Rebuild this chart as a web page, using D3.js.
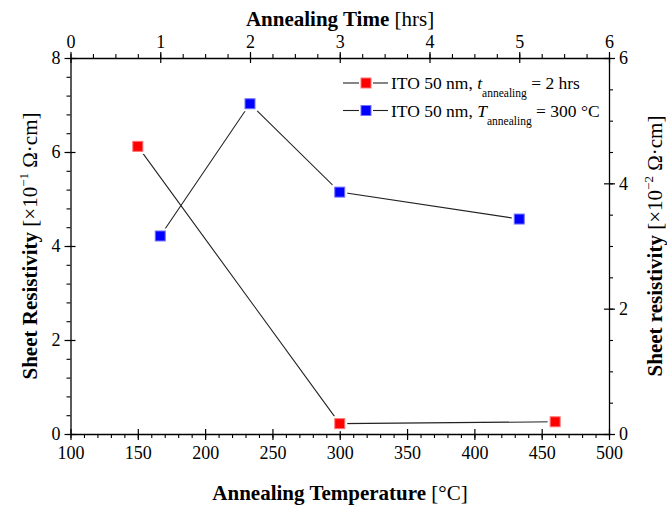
<!DOCTYPE html>
<html><head><meta charset="utf-8">
<script src="https://cdn.jsdelivr.net/npm/d3@7"></script>
<style>body{margin:0;background:#fff}svg{display:block}text{font-family:"Liberation Serif","DejaVu Serif",serif;fill:#000}</style>
</head><body>
<svg id="c" width="667" height="506"></svg>
<script>
// data
const redTemps = [150, 300, 460];
const redValues = [6.12, 0.22, 0.26];
const blueTimes = [1, 2, 3, 5];
const blueValues = [3.16, 5.27, 3.86, 3.43];
const tempTicks = [100, 150, 200, 250, 300, 350, 400, 450, 500];
const timeTicks = [0, 1, 2, 3, 4, 5, 6];
const leftTicks = [0, 2, 4, 6, 8];
const rightTicks = [0, 2, 4, 6];
const legendLabels = [
  {pre: "ITO 50 nm, ", sym: "t", sub: "annealing", post: " = 2 hrs"},
  {pre: "ITO 50 nm, ", sym: "T", sub: "annealing", post: " = 300 °C"}
];
const colors = ["#ff0000", "#0000ff"];

const L = 70.5, R = 609, T = 58, B = 434;
const svg = d3.select("#c");
const xT = d3.scaleLinear().domain([100, 500]).range([L, R]);
const xH = d3.scaleLinear().domain([0, 6]).range([L, R]);
const yL = d3.scaleLinear().domain([0, 8]).range([B, T]);
const yR = d3.scaleLinear().domain([0, 6]).range([B, T]);
const fmt = d3.format("d");

function styleAxis(g, fs) {
  g.select(".domain").attr("stroke", "#000").attr("stroke-width", 1.3);
  g.selectAll(".tick line").attr("stroke", "#000").attr("stroke-width", 1.2);
  g.selectAll(".tick text").style("font-size", fs + "px").attr("fill", "#000");
}
// minor ticks
function minor(axisFn, scale, vals, size, tr) {
  const g = svg.append("g").attr("transform", tr)
    .call(axisFn(scale).tickValues(vals).tickSize(size).tickFormat(""));
  g.select(".domain").remove();
  g.selectAll(".tick line").attr("stroke", "#000").attr("stroke-width", 1.1);
}
const range = (a, b, s) => d3.range(a, b + s / 2, s);
minor(d3.axisBottom, xT, range(100, 500, 10), 4, `translate(0,${B})`);
minor(d3.axisBottom, xH, range(0, 6, 0.25), -4, `translate(0,${T})`);
minor(d3.axisLeft, yL, range(0, 8, 0.4), 4, `translate(${L},0)`);
minor(d3.axisRight, yR, range(0, 6, 0.5), 4, `translate(${R},0)`);

// major axes (ticks cross axis)
const gb = svg.append("g").attr("transform", `translate(0,${B})`)
  .call(d3.axisBottom(xT).tickValues(tempTicks).tickFormat(fmt).tickSizeInner(6).tickSizeOuter(0).tickPadding(6));
gb.selectAll(".tick line").attr("y1", -5);
styleAxis(gb, 18);
const gt = svg.append("g").attr("transform", `translate(0,${T})`)
  .call(d3.axisTop(xH).tickValues(timeTicks).tickFormat(fmt).tickSizeInner(6).tickSizeOuter(0).tickPadding(4));
gt.selectAll(".tick line").attr("y1", 5);
styleAxis(gt, 18);
const gl = svg.append("g").attr("transform", `translate(${L},0)`)
  .call(d3.axisLeft(yL).tickValues(leftTicks).tickFormat(fmt).tickSizeInner(6).tickSizeOuter(0).tickPadding(4));
gl.selectAll(".tick line").attr("x1", 5);
styleAxis(gl, 18);
const gr = svg.append("g").attr("transform", `translate(${R},0)`)
  .call(d3.axisRight(yR).tickValues(rightTicks).tickFormat(fmt).tickSizeInner(6).tickSizeOuter(0).tickPadding(4));
gr.selectAll(".tick line").attr("x1", -5);
styleAxis(gr, 18);

// series
function series(xs, ys, xs_, ys_, color) {
  const pts = xs.map((x, i) => [xs_(x), ys_(ys[i])]);
  svg.append("path").attr("d", d3.line()(pts)).attr("fill", "none")
    .attr("stroke", "#222").attr("stroke-width", 1.1);
  svg.selectAll(null).data(pts).enter().append("rect")
    .attr("x", d => d[0] - 7.5).attr("y", d => d[1] - 7.5).attr("width", 15).attr("height", 15)
    .attr("fill", "#fff");
  svg.selectAll(null).data(pts).enter().append("rect")
    .attr("x", d => d[0] - 5).attr("y", d => d[1] - 5).attr("width", 10).attr("height", 10)
    .attr("fill", color).attr("stroke", d3.interpolateRgb(color, "#fff")(0.45)).attr("stroke-width", 1);
}
series(redTemps, redValues, xT, yL, colors[0]);
series(blueTimes, blueValues, xH, yR, colors[1]);

// legend
legendLabels.forEach((lab, i) => {
  const y = 83 + i * 27.5;
  svg.append("line").attr("x1", 343).attr("x2", 359).attr("y1", y).attr("y2", y).attr("stroke", "#222").attr("stroke-width", 1.1);
  svg.append("line").attr("x1", 373).attr("x2", 388).attr("y1", y).attr("y2", y).attr("stroke", "#222").attr("stroke-width", 1.1);
  svg.append("rect").attr("x", 361).attr("y", y - 5).attr("width", 10).attr("height", 10)
    .attr("fill", colors[i]).attr("stroke", d3.interpolateRgb(colors[i], "#fff")(0.45));
  const t = svg.append("text").attr("x", 391).attr("y", y + 6).style("font-size", "17.5px");
  t.append("tspan").text(lab.pre);
  t.append("tspan").style("font-style", "italic").text(lab.sym);
  t.append("tspan").attr("dy", 8).style("font-size", "11.5px").text(lab.sub);
  t.append("tspan").attr("dy", -8).text(lab.post);
});

// titles
function title(x, y, rot, bold, normal, sup, rest) {
  const t = svg.append("text").attr("text-anchor", "middle")
    .attr("transform", `translate(${x},${y}) rotate(${rot})`).style("font-size", "21px");
  t.append("tspan").style("font-weight", "bold").text(bold);
  t.append("tspan").text(normal);
  if (sup) {
    t.append("tspan").attr("dy", -9).style("font-size", "13px").text(sup);
    t.append("tspan").attr("dy", 9).text(rest);
  }
}
title(340, 500, 0, "Annealing Temperature ", "[°C]");
title(340, 26, 0, "Annealing Time ", "[hrs]");
title(37, 246, -90, "Sheet Resistivity ", "[×10", "−1", "  Ω·cm]");
title(662, 246, -90, "Sheet resistivity ", "[×10", "−2", "  Ω·cm]");
</script>
</body></html>
